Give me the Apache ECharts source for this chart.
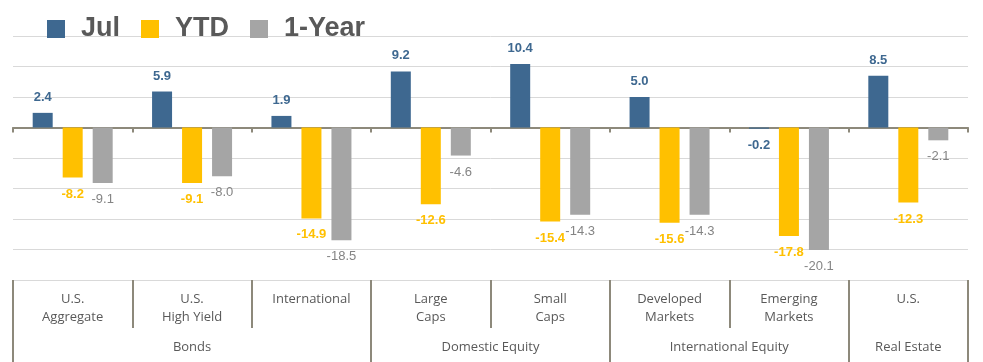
<!DOCTYPE html>
<html>
<head>
<meta charset="utf-8">
<script src="https://cdn.jsdelivr.net/npm/echarts@6/dist/echarts.min.js"></script>
<style>
html,body{margin:0;padding:0;background:#fff;}
#chart{width:983px;height:362px;}
</style>
</head>
<body>
<div id="chart"></div>
<script>
const categories = ['U.S.\nAggregate','U.S.\nHigh Yield','International','Large\nCaps','Small\nCaps','Developed\nMarkets','Emerging\nMarkets','U.S.'];
const groups = ['Bonds','Domestic Equity','International Equity','Real Estate'];
const groupSpans = [3,2,2,1];
const julValues = [2.4, 5.9, 1.9, 9.2, 10.4, 5.0, -0.2, 8.5];
const ytdValues = [-8.2, -9.1, -14.9, -12.6, -15.4, -15.6, -17.8, -12.3];
const yearValues = [-9.1, -8.0, -18.5, -4.6, -14.3, -14.3, -20.1, -2.1];

const groupBounds = [0];
groupSpans.forEach(s => groupBounds.push(groupBounds[groupBounds.length-1] + s));
const groupCenters = groups.map((g,i) => (groupBounds[i] + groupBounds[i+1]) / 2);

const sepColor = '#8D897B';
const labelFont = '"Liberation Sans", Arial, sans-serif';

function mkData(vals, color, bold) {
  return vals.map(v => ({
    value: v,
    label: {
      show: true,
      position: v >= 0 ? 'top' : 'bottom',
      distance: v >= 0 ? 9 : 10,
      formatter: (p) => p.value.toFixed(1),
      color: color,
      fontWeight: bold ? 'bold' : 'normal',
      fontSize: 13,
      fontFamily: labelFont
    }
  }));
}

const chart = echarts.init(document.getElementById('chart'), null, {renderer: 'canvas'});
chart.setOption({
  animation: false,
  backgroundColor: '#fff',
  legend: {
    left: 47,
    top: 15,
    padding: 0,
    itemWidth: 18,
    itemHeight: 18,
    itemGap: 21,
    icon: 'rect',
    textStyle: {
      fontSize: 27,
      fontWeight: 'bold',
      color: '#595959',
      fontFamily: labelFont,
      lineHeight: 28,
      padding: [0,0,0,11]
    },
    data: ['Jul','YTD','1-Year']
  },
  grid: {
    left: 13, right: 15, top: 36, bottom: 82,
    containLabel: false,
    outerBoundsMode: 'none'
  },
  xAxis: [
    {
      type: 'category',
      data: categories,
      position: 'bottom',
      axisLine: {onZero: true, lineStyle: {color: sepColor, width: 2}},
      axisTick: {show: true, length: 5, interval: 0, lineStyle: {color: sepColor, width: 2}},
      axisLabel: {show: false},
      splitLine: {show: false}
    },
    {
      type: 'category',
      data: categories,
      position: 'bottom',
      axisLine: {show: false, onZero: false},
      axisTick: {show: true, length: 48, interval: 0, lineStyle: {color: sepColor, width: 2}},
      axisLabel: {
        show: true, interval: 0, margin: 10,
        fontSize: 13, lineHeight: 18.5, color: '#595959',
        fontFamily: '"Open Sans", sans-serif',
        verticalAlign: 'top'
      },
      splitLine: {show: false}
    },
    {
      type: 'value',
      min: 0, max: 8,
      position: 'bottom',
      axisLine: {show: false, onZero: false},
      axisTick: {show: true, length: 82, customValues: groupBounds, lineStyle: {color: sepColor, width: 2}},
      axisLabel: {
        show: true, margin: 58, customValues: groupCenters,
        formatter: (v) => { const i = groupCenters.indexOf(v); return i >= 0 ? groups[i] : ''; },
        fontSize: 13, lineHeight: 18, color: '#595959',
        fontFamily: '"Open Sans", sans-serif',
        verticalAlign: 'top'
      },
      splitLine: {show: false}
    }
  ],
  yAxis: {
    type: 'value',
    min: -25, max: 15, interval: 5,
    axisLabel: {show: false},
    axisLine: {show: false},
    axisTick: {show: false},
    splitLine: {show: true, lineStyle: {color: '#D9D9D9', width: 1}}
  },
  series: [
    {name: 'Jul', type: 'bar', barWidth: 20, barGap: '50%', itemStyle: {color: '#3E6890'}, data: mkData(julValues, '#3E6890', true)},
    {name: 'YTD', type: 'bar', barWidth: 20, barGap: '50%', itemStyle: {color: '#FFC000'}, data: mkData(ytdValues, '#FFC000', true)},
    {name: '1-Year', type: 'bar', barWidth: 20, barGap: '50%', itemStyle: {color: '#A5A5A5'}, data: mkData(yearValues, '#848484', false)}
  ]
});
</script>
</body>
</html>
